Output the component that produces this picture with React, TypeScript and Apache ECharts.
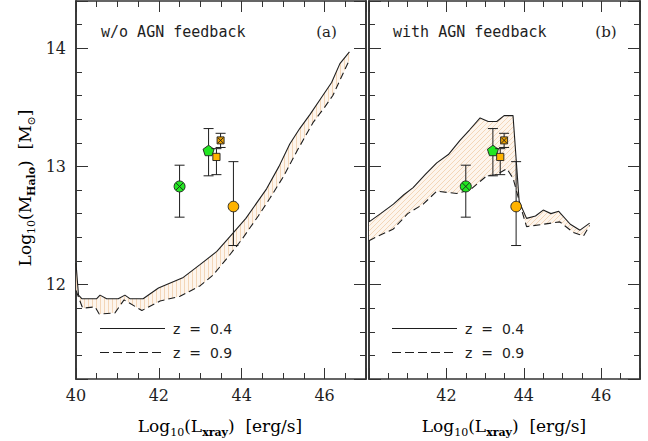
import React, { useEffect, useRef } from 'react';
import * as echarts from 'echarts';

// ---------------- data ----------------
// Panel (a): w/o AGN feedback  — [log Lx, log Mhalo]
const noAgnZ04 = [
  [40.0, 12.18], [40.06, 11.91], [40.14, 11.88], [40.5, 11.88], [40.58, 11.91], [40.74, 11.88],
  [41.02, 11.88], [41.18, 11.91], [41.3, 11.88], [41.62, 11.88], [41.99, 11.97], [42.59, 12.06],
  [43.0, 12.17], [43.4, 12.28], [43.8, 12.44], [44.1, 12.56], [44.4, 12.71], [44.6, 12.81],
  [44.9, 13.0], [45.16, 13.19], [45.4, 13.32], [45.65, 13.44], [45.9, 13.57], [46.17, 13.71],
  [46.37, 13.87], [46.6, 13.97],
];
const noAgnZ09 = [
  [40.0, 11.95], [40.16, 11.8], [40.46, 11.81], [40.56, 11.75], [40.94, 11.76], [41.16, 11.87],
  [41.59, 11.78], [42.03, 11.86], [42.51, 11.9], [43.0, 11.99], [43.31, 12.08], [43.71, 12.25],
  [44.0, 12.38], [44.2, 12.48], [44.4, 12.58], [44.68, 12.73], [45.0, 12.91], [45.35, 13.14],
  [45.72, 13.37], [46.0, 13.5], [46.2, 13.6], [46.53, 13.85], [46.6, 13.9],
];
// Panel (b): with AGN feedback
const agnZ04 = [
  [40.0, 12.53], [40.3, 12.6], [40.63, 12.68], [40.9, 12.76], [41.14, 12.82], [41.45, 12.93],
  [41.75, 13.03], [42.05, 13.1], [42.35, 13.22], [42.6, 13.31], [42.87, 13.41], [43.08, 13.38],
  [43.3, 13.38], [43.49, 13.43], [43.72, 13.43], [43.88, 12.7], [44.07, 12.56], [44.3, 12.58],
  [44.5, 12.63], [44.7, 12.6], [44.9, 12.62], [45.2, 12.51], [45.45, 12.46], [45.7, 12.52],
];
const agnZ09 = [
  [40.0, 12.37], [40.11, 12.39], [40.63, 12.47], [41.0, 12.6], [41.4, 12.68], [41.75, 12.79],
  [42.27, 12.77], [42.61, 12.8], [43.04, 12.92], [43.3, 12.93], [43.56, 12.98], [43.72, 12.9],
  [43.97, 12.6], [44.07, 12.49], [44.5, 12.51], [44.93, 12.53], [45.28, 12.44], [45.54, 12.41],
  [45.7, 12.5],
];
// observed points
const obsX = [42.5, 43.2, 43.39, 43.49, 43.8];
const obsY = [12.83, 13.13, 13.08, 13.22, 12.66];
const obsLo = [12.57, 12.92, 12.93, 13.16, 12.33];
const obsHi = [13.01, 13.32, 13.15, 13.28, 13.04];
const obsKind = ['crossCircle', 'pentagon', 'square', 'crossSquare', 'circle'];

const xTickLabelsA = [40, 42, 44, 46];
const xTickLabelsB = [42, 44, 46];
const yTickLabels = [12, 13, 14];
const legendLabels = ['z  =  0.4', 'z  =  0.9'];
const panelTitles = ['w/o AGN feedback', 'with AGN feedback'];
const panelTags = ['(a)', '(b)'];

// ---------------- styles ----------------
const SERIF = '"DejaVu Serif", serif';
const MONO = '"DejaVu Sans Mono", monospace';
const SANS = '"DejaVu Sans", sans-serif';
const INK = '#1e1e1e';
const AXIS = '#333';
const GREEN = '#22e622';
const ORANGE = '#ffb300';
const ORANGE_D = '#eda000';

function makePattern(kind: 'v' | 'd') {
  const size = kind === 'v' ? 4 : 5;
  const c = document.createElement('canvas');
  c.width = size;
  c.height = size;
  const ctx = c.getContext('2d')!;
  ctx.fillStyle = '#fdf5ed';
  ctx.fillRect(0, 0, size, size);
  ctx.strokeStyle = '#f3d6b8';
  ctx.lineWidth = 1;
  ctx.beginPath();
  if (kind === 'v') {
    ctx.moveTo(0.5, 0);
    ctx.lineTo(0.5, size);
  } else {
    ctx.moveTo(-1, size + 1);
    ctx.lineTo(size + 1, -1);
    ctx.moveTo(-1, 1);
    ctx.lineTo(1, -1);
    ctx.moveTo(size - 1, size + 1);
    ctx.lineTo(size + 1, size - 1);
  }
  ctx.stroke();
  return { image: c.toDataURL(), repeat: 'repeat', imageWidth: size, imageHeight: size };
}

function xAxes(grid: number, labels: number[]) {
  const base = {
    type: 'value', gridIndex: grid, min: 40, max: 47, interval: 2,
    axisLine: { show: true, onZero: false, lineStyle: { color: AXIS, width: 1.6 } },
    axisTick: { show: true, inside: true, length: 11, lineStyle: { color: AXIS, width: 1 } },
    minorTick: { show: true, splitNumber: 4, length: 6, lineStyle: { color: AXIS, width: 1 } },
    splitLine: { show: false }, minorSplitLine: { show: false },
  };
  return [
    {
      ...base, position: 'bottom',
      axisLabel: {
        show: true, margin: 8, fontFamily: SERIF, fontSize: 16, color: INK,
        formatter: (v: number) => (labels.indexOf(Math.round(v * 1000) / 1000) >= 0 ? String(v) : ''),
      },
    },
    { ...base, position: 'top', axisLabel: { show: false } },
  ];
}

function yAxes(grid: number, showLabels: boolean) {
  const common = {
    type: 'value', gridIndex: grid, min: 11.2, max: 14.4,
    axisLine: { show: true, onZero: false, lineStyle: { color: AXIS, width: 1.6 } },
    splitLine: { show: false },
  };
  const minor = { ...common, interval: 0.2, axisTick: { show: true, inside: true, length: 6, lineStyle: { color: AXIS, width: 1 } }, axisLabel: { show: false } };
  const major = (pos: string, lab: boolean) => ({
    ...common, position: pos, splitNumber: 3,
    axisTick: { show: true, inside: true, length: 12, lineStyle: { color: AXIS, width: 1 } },
    axisLabel: {
      show: lab, margin: 10, fontFamily: SERIF, fontSize: 16, color: INK,
      formatter: (v: number) => (yTickLabels.indexOf(Math.round(v * 1000) / 1000) >= 0 ? String(v) : ''),
    },
  });
  return [
    { ...minor, position: 'left' },
    major('left', showLabels),
    { ...minor, position: 'right' },
    major('right', false),
  ];
}

function bandSeries(upper: number[][], lower: number[][], xi: number, yi: number, fill: any) {
  return {
    type: 'custom', xAxisIndex: xi, yAxisIndex: yi, z: 1, silent: true,
    data: [[upper[0][0], upper[0][1]]],
    renderItem: (_p: any, api: any) => {
      const pts = upper.map((p) => api.coord(p)).concat(lower.slice().reverse().map((p) => api.coord(p)));
      return { type: 'polygon', shape: { points: pts }, style: { fill, stroke: 'none' } };
    },
  };
}

function lineSeries(data: number[][], xi: number, yi: number, dashed: boolean) {
  return {
    type: 'line', xAxisIndex: xi, yAxisIndex: yi, z: 3, silent: true, data,
    symbol: 'none', showSymbol: false,
    lineStyle: { color: INK, width: 1.1, type: dashed ? [7, 4] : 'solid' },
  };
}

function markerShapes(kind: string, c: number[]) {
  const [cx, cy] = c;
  const edge = { stroke: INK, lineWidth: 0.9 };
  const cross = (h: number) => [
    { type: 'line', shape: { x1: cx - h, y1: cy - h, x2: cx + h, y2: cy + h }, style: { stroke: INK, lineWidth: 0.9 } },
    { type: 'line', shape: { x1: cx - h, y1: cy + h, x2: cx + h, y2: cy - h }, style: { stroke: INK, lineWidth: 0.9 } },
  ];
  if (kind === 'circle') return [{ type: 'circle', shape: { cx, cy, r: 5.3 }, style: { fill: ORANGE, ...edge } }];
  if (kind === 'crossCircle') return [{ type: 'circle', shape: { cx, cy, r: 5.5 }, style: { fill: GREEN, ...edge } }, ...cross(3.6)];
  if (kind === 'square') return [{ type: 'rect', shape: { x: cx - 3.6, y: cy - 3.6, width: 7.2, height: 7.2 }, style: { fill: ORANGE, ...edge } }];
  if (kind === 'crossSquare') return [{ type: 'rect', shape: { x: cx - 3.5, y: cy - 3.5, width: 7, height: 7 }, style: { fill: ORANGE_D, ...edge } }, ...cross(2.8)];
  const pts: number[][] = [];
  for (let k = 0; k < 5; k++) {
    const a = -Math.PI / 2 + (k * 2 * Math.PI) / 5;
    pts.push([cx + 5.8 * Math.cos(a), cy + 5.8 * Math.sin(a)]);
  }
  return [{ type: 'polygon', shape: { points: pts }, style: { fill: GREEN, ...edge } }];
}

function obsSeries(xi: number, yi: number) {
  const CAP = 5;
  return {
    type: 'custom', xAxisIndex: xi, yAxisIndex: yi, z: 5, silent: true,
    data: obsX.map((x, i) => [x, obsY[i], obsLo[i], obsHi[i]]),
    renderItem: (params: any, api: any) => {
      const i = params.dataIndex;
      const x = api.value(0);
      const c = api.coord([x, api.value(1)]);
      const lo = api.coord([x, api.value(2)]);
      const hi = api.coord([x, api.value(3)]);
      const ls = { stroke: INK, lineWidth: 1 };
      return {
        type: 'group',
        children: [
          { type: 'line', shape: { x1: lo[0], y1: lo[1], x2: hi[0], y2: hi[1] }, style: ls },
          { type: 'line', shape: { x1: lo[0] - CAP, y1: lo[1], x2: lo[0] + CAP, y2: lo[1] }, style: ls },
          { type: 'line', shape: { x1: hi[0] - CAP, y1: hi[1], x2: hi[0] + CAP, y2: hi[1] }, style: ls },
          ...markerShapes(obsKind[i], c),
        ],
      };
    },
  };
}

const richMain = {
  n: { fontFamily: SERIF, fontSize: 17, color: INK, lineHeight: 24 },
  s: { fontFamily: SERIF, fontSize: 11, color: INK, verticalAlign: 'bottom', lineHeight: 11 },
  b: { fontFamily: SERIF, fontSize: 11, fontWeight: 'bold', color: INK, verticalAlign: 'bottom', lineHeight: 11 },
};

function legendGraphics(x0: number) {
  const y1 = 328.5, y2 = 352.5;
  return [
    { type: 'line', shape: { x1: x0, y1, x2: x0 + 65, y2: y1 }, style: { stroke: INK, lineWidth: 1.1 } },
    { type: 'line', shape: { x1: x0, y1: y2, x2: x0 + 65, y2: y2 }, style: { stroke: INK, lineWidth: 1.1, lineDash: [9, 4] } },
    { type: 'text', x: x0 + 73, y: y1, style: { text: legendLabels[0], fontFamily: SANS, fontSize: 14, fill: INK, verticalAlign: 'middle' } },
    { type: 'text', x: x0 + 73, y: y2, style: { text: legendLabels[1], fontFamily: SANS, fontSize: 14, fill: INK, verticalAlign: 'middle' } },
  ];
}

export default function App() {
  const ref = useRef<HTMLDivElement>(null);
  useEffect(() => {
    if (!ref.current) return;
    const chart = echarts.init(ref.current, null, { renderer: 'svg' });
    const patA = makePattern('v');
    const patB = makePattern('d');
    const option: any = {
      animation: false,
      backgroundColor: '#ffffff',
      grid: [
        { left: 76, top: 1, width: 290, height: 378 },
        { left: 369, top: 1, width: 271, height: 378 },
      ],
      xAxis: [...xAxes(0, xTickLabelsA), ...xAxes(1, xTickLabelsB)],
      yAxis: [...yAxes(0, true), ...yAxes(1, false)],
      series: [
        bandSeries(noAgnZ04, noAgnZ09, 0, 0, patA),
        lineSeries(noAgnZ04, 0, 0, false),
        lineSeries(noAgnZ09, 0, 0, true),
        obsSeries(0, 0),
        bandSeries(agnZ04, agnZ09, 2, 4, patB),
        lineSeries(agnZ04, 2, 4, false),
        lineSeries(agnZ09, 2, 4, true),
        obsSeries(2, 4),
      ],
      graphic: [
        {
          type: 'text', x: 25, y: 188, rotation: Math.PI / 2,
          style: { text: '{n|Log}{s|10}{n|(M}{b|Halo}{n|)  [M}{s|⊙}{n|]}', rich: richMain, align: 'center', verticalAlign: 'middle' },
        },
        {
          type: 'text', x: 220, y: 426,
          style: { text: '{n|Log}{s|10}{n|(L}{b|xray}{n|)  [erg/s]}', rich: richMain, align: 'center', verticalAlign: 'middle' },
        },
        {
          type: 'text', x: 504, y: 426,
          style: { text: '{n|Log}{s|10}{n|(L}{b|xray}{n|)  [erg/s]}', rich: richMain, align: 'center', verticalAlign: 'middle' },
        },
        { type: 'text', x: 101, y: 32, style: { text: panelTitles[0], fontFamily: MONO, fontSize: 15, fill: INK, verticalAlign: 'middle' } },
        { type: 'text', x: 393, y: 32, style: { text: panelTitles[1], fontFamily: MONO, fontSize: 15, fill: INK, verticalAlign: 'middle' } },
        { type: 'text', x: 326.5, y: 32, style: { text: panelTags[0], fontFamily: SERIF, fontSize: 15, fill: INK, align: 'center', verticalAlign: 'middle' } },
        { type: 'text', x: 606, y: 32, style: { text: panelTags[1], fontFamily: SERIF, fontSize: 15, fill: INK, align: 'center', verticalAlign: 'middle' } },
        ...legendGraphics(100),
        ...legendGraphics(392),
      ],
    };
    chart.setOption(option);
    return () => chart.dispose();
  }, []);
  return <div ref={ref} style={{ position: 'absolute', left: 0, top: 0, width: 648, height: 441 }} />;
}
